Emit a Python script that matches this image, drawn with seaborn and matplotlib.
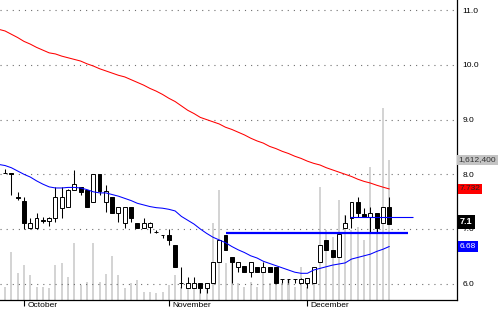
import numpy as np
import pandas as pd
import matplotlib
matplotlib.use("Agg")
import matplotlib.pyplot as plt
import matplotlib.transforms as mtrans
import seaborn as sns

sns.set_theme(style="white")
plt.rcParams["font.family"] = ["Liberation Sans", "DejaVu Sans"]

# ---------------- data ----------------
opens = [8.02, 8.02, 7.58, 7.51, 7.01, 7.01, 7.16, 7.14, 7.20, 7.38,
         7.40, 7.71, 7.76, 7.71, 7.49, 8.00, 7.49, 7.58, 7.29, 7.11,
         7.40, 7.11, 7.01, 7.03, 6.94, 6.89, 6.89, 6.70, 6.02, 5.92,
         5.92, 6.01, 5.92, 6.01, 6.39, 6.89, 6.48, 6.30, 6.32, 6.21,
         6.30, 6.21, 6.30, 6.30, 6.08, 6.08, 6.08, 6.01, 6.01, 6.01,
         6.39, 6.80, 6.61, 6.48, 7.01, 7.20, 7.49, 7.27, 7.22, 7.29,
         7.11, 7.40]
highs = [8.10, 8.02, 7.67, 7.58, 7.20, 7.29, 7.22, 7.22, 7.76, 7.76,
         7.73, 8.08, 7.76, 7.71, 8.00, 8.00, 7.80, 7.58, 7.40, 7.40,
         7.40, 7.11, 7.20, 7.13, 6.99, 6.89, 7.00, 6.70, 6.30, 6.12,
         6.12, 6.01, 6.01, 6.39, 6.80, 6.89, 6.48, 6.39, 6.32, 6.39,
         6.30, 6.39, 6.30, 6.30, 6.08, 6.08, 6.08, 6.10, 6.10, 6.30,
         6.70, 6.80, 6.61, 6.90, 7.25, 7.49, 7.58, 7.38, 7.40, 7.29,
         7.40, 7.58]
lows = [8.02, 7.62, 7.53, 7.00, 7.00, 7.00, 7.11, 7.05, 7.12, 7.20,
        7.40, 7.71, 7.62, 7.40, 7.49, 7.62, 7.31, 7.29, 7.12, 7.01,
        7.12, 7.01, 7.01, 6.92, 6.93, 6.83, 6.70, 6.30, 5.92, 5.92,
        5.92, 5.83, 5.83, 6.01, 6.39, 6.61, 6.01, 6.21, 6.21, 6.12,
        6.21, 6.21, 6.21, 6.01, 6.01, 6.01, 6.01, 6.01, 5.92, 6.01,
        6.39, 6.61, 6.48, 6.48, 7.01, 7.01, 7.22, 7.22, 6.95, 6.92,
        7.11, 7.10]
closes = [8.02, 8.01, 7.57, 7.11, 7.11, 7.20, 7.15, 7.20, 7.58, 7.58,
          7.71, 7.82, 7.67, 7.40, 8.00, 7.69, 7.69, 7.29, 7.40, 7.40,
          7.20, 7.01, 7.11, 7.11, 6.94, 6.89, 6.80, 6.30, 6.01, 6.01,
          6.01, 5.92, 6.01, 6.39, 6.80, 6.61, 6.39, 6.39, 6.21, 6.39,
          6.21, 6.30, 6.21, 6.01, 6.08, 6.08, 6.08, 6.09, 6.10, 6.30,
          6.70, 6.61, 6.48, 6.90, 7.11, 7.49, 7.29, 7.22, 7.29, 7.01,
          7.40, 7.10]
volumes = [150000, 553000, 311000, 403000, 288000, 150000, 150000, 138000, 403000, 426000,
           265000, 656000, 173000, 207000, 656000, 207000, 300000, 507000, 288000, 138000,
           196000, 230000, 92000, 92000, 81000, 92000, 173000, 288000, 150000, 196000,
           150000, 150000, 138000, 887000, 1267000, 426000, 426000, 196000, 150000, 207000,
           150000, 322000, 196000, 380000, 196000, 230000, 150000, 380000, 150000, 311000,
           1301000, 806000, 726000, 1152000, 979000, 806000, 841000, 691000, 1532000, 829000,
           2211000, 1612400]

# moving averages, starting one session before the first candle
ma_red = [10.65, 10.62, 10.56, 10.50, 10.43, 10.38, 10.32, 10.27, 10.22, 10.20, 10.16,
          10.13, 10.10, 10.07, 10.02, 9.98, 9.93, 9.89, 9.85, 9.81, 9.78,
          9.73, 9.68, 9.63, 9.57, 9.52, 9.46, 9.39, 9.33, 9.25, 9.17,
          9.11, 9.04, 9.00, 8.96, 8.92, 8.86, 8.82, 8.77, 8.72, 8.66,
          8.61, 8.57, 8.51, 8.47, 8.42, 8.38, 8.33, 8.29, 8.24, 8.20,
          8.17, 8.12, 8.08, 8.04, 8.00, 7.96, 7.91, 7.87, 7.84, 7.80,
          7.765, 7.732]
ma_blue = [8.18, 8.16, 8.12, 8.06, 8.00, 7.95, 7.88, 7.82, 7.77, 7.75, 7.75,
           7.76, 7.76, 7.75, 7.72, 7.68, 7.66, 7.66, 7.63, 7.60, 7.56,
           7.52, 7.47, 7.44, 7.41, 7.39, 7.38, 7.36, 7.33, 7.23, 7.16,
           7.09, 7.00, 6.92, 6.85, 6.80, 6.75, 6.68, 6.62, 6.57, 6.51,
           6.47, 6.41, 6.37, 6.33, 6.29, 6.25, 6.21, 6.19, 6.19, 6.25,
           6.28, 6.31, 6.34, 6.36, 6.38, 6.45, 6.48, 6.51, 6.54, 6.59,
           6.63, 6.68]

months = ["October", "November", "December"]
month_pos = [3, 26, 48]
price_ticks = [6.0, 7.0, 8.0, 9.0, 10.0, 11.0]

support_level = 6.92
support_span = (35.1, 64.0)
resist_level = 7.22
resist_span = (54.8, 64.8)

# ---------------- figure ----------------
n = len(closes)
idx = np.arange(n)
ma_idx = np.arange(-1, n)

fig = plt.figure(figsize=(5.0, 3.12), dpi=100)
ax = fig.add_axes([0, 12 / 312, 457 / 500, 300 / 312])
axv = ax.twinx()
ax.set_zorder(axv.get_zorder() + 1)
ax.patch.set_visible(False)

# volume
vol_df = pd.DataFrame({"i": idx, "vol": volumes})
sns.barplot(data=vol_df, x="i", y="vol", native_scale=True, color="#d4d4d4",
            saturation=1, width=0.32, errorbar=None, linewidth=0, ax=axv)
axv.set_ylim(0, volumes[-1] * 300 / 140)
axv.set_yticks([])
axv.set_ylabel("")
axv.set_xlabel("")
for s in axv.spines.values():
    s.set_visible(False)

# grid
ax.set_ylim(5.702, 11.186)
ax.set_yticks(price_ticks)
ax.set_yticklabels([f"{t:.1f}" for t in price_ticks])
ax.grid(axis="y", color="#6f6f6f", linestyle=(0, (1, 4.5)), linewidth=0.8, zorder=0)
ax.grid(axis="x", visible=False)

# candles
o = np.array(opens); c = np.array(closes)
ax.vlines(idx, lows, highs, color="black", linewidth=0.75, zorder=3)
bottoms = np.minimum(o, c)
heights = np.maximum(np.abs(c - o), 0.004)
faces = ["white" if cc >= oo else "black" for oo, cc in zip(o, c)]
ax.bar(idx, heights, bottom=bottoms, width=0.62, color=faces,
       edgecolor="black", linewidth=0.7, zorder=4)

# moving averages
sns.lineplot(x=ma_idx, y=ma_red, ax=ax, color="#ff0000", linewidth=0.75, zorder=5)
sns.lineplot(x=ma_idx, y=ma_blue, ax=ax, color="#0000ff", linewidth=0.75, zorder=5)

# horizontal lines
ax.hlines(support_level, *support_span, color="#0000ff", linewidth=1.6, zorder=5)
ax.hlines(resist_level, *resist_span, color="#0000ff", linewidth=0.8, zorder=5)

ax.set_xlim(-0.8, 71.75)
ax.set_xlabel("")
ax.set_ylabel("")

# axes styling
ax.yaxis.tick_right()
ax.tick_params(axis="y", length=0, pad=4, labelsize=6, labelcolor="black",
               left=False, right=True, labelleft=False, labelright=True)
ax.set_xticks(month_pos)
ax.set_xticklabels([""] * len(month_pos))
ax.tick_params(axis="x", direction="out", length=4, width=0.8, color="black", bottom=True)
for side in ["left", "top"]:
    ax.spines[side].set_visible(False)
for side in ["right", "bottom"]:
    ax.spines[side].set_visible(True)
    ax.spines[side].set_color("black")
    ax.spines[side].set_linewidth(0.9)

tx = mtrans.blended_transform_factory(ax.transData, ax.transAxes)
for m, p in zip(months, month_pos):
    ax.text(p + 0.55, -0.008, m, transform=tx, ha="left", va="top", fontsize=6,
            color="black", clip_on=False)

# last-value boxes
ty = mtrans.blended_transform_factory(ax.transAxes, ax.transData)
tyv = mtrans.blended_transform_factory(ax.transAxes, axv.transData)
ax.text(1.004, volumes[-1], f"{volumes[-1]:,}", transform=tyv, fontsize=6,
        ha="left", va="center", color="#333333", clip_on=False, zorder=10,
        bbox=dict(boxstyle="square,pad=0.2", fc="#c4c4c4", ec="none"))
ax.text(1.006, ma_red[-1], f"{ma_red[-1]:.3f}", transform=ty, fontsize=6,
        ha="left", va="center", color="#222222", clip_on=False, zorder=10,
        bbox=dict(boxstyle="square,pad=0.2", fc="#ff0000", ec="none"))
ax.text(1.006, closes[-1] + 0.03, f"{closes[-1]:g}", transform=ty, fontsize=6.5,
        fontweight="bold", ha="left", va="center", color="white", clip_on=False,
        zorder=10, bbox=dict(boxstyle="square,pad=0.3", fc="black", ec="none"))
ax.text(1.006, ma_blue[-1], f"{ma_blue[-1]:.2f}", transform=ty, fontsize=6,
        ha="left", va="center", color="white", clip_on=False, zorder=10,
        bbox=dict(boxstyle="square,pad=0.2", fc="#0000ff", ec="none"))

fig.savefig("out.png", dpi=100, facecolor="white")
